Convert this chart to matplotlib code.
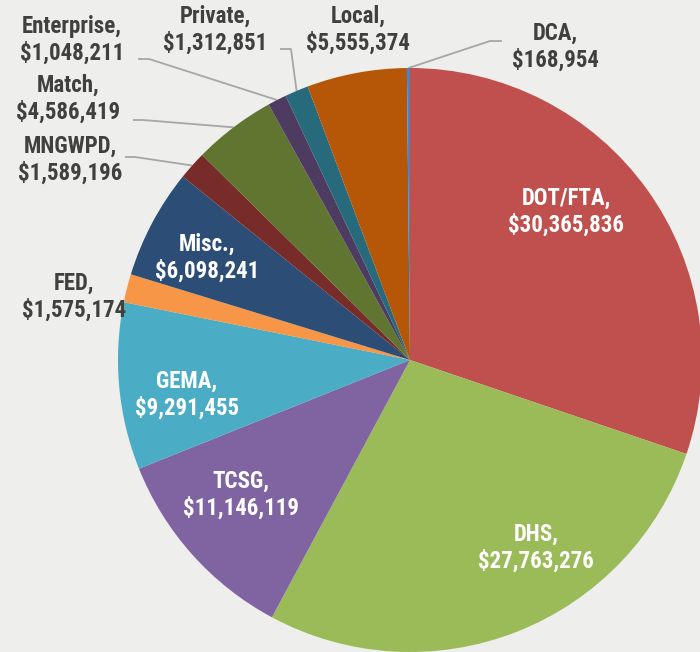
import matplotlib.pyplot as plt
from matplotlib import font_manager
import numpy as np

# prefer a narrow bold face, like the original's Tahoma-ish labels
names = {f.name for f in font_manager.fontManager.ttflist}
family = "DejaVu Sans"
for cand in ["Roboto Condensed", "Liberation Sans Narrow"]:
    if cand in names:
        family = cand
        break
plt.rcParams["font.family"] = family

# funding sources, clockwise from 12 o'clock
labels = ["DOT/FTA", "DHS", "TCSG", "GEMA", "FED", "Misc.", "MNGWPD",
          "Match", "Enterprise", "Private", "Local", "DCA"]
values = [30365836, 27763276, 11146119, 9291455, 1575174, 6098241, 1589196,
          4586419, 1048211, 1312851, 5555374, 168954]
colors = ["#C0504D", "#9BBB59", "#8064A2", "#4BACC6", "#F79646", "#2C4D75",
          "#772C2A", "#5F7530", "#4D3B62", "#276A7C", "#B65708", "#4F81BD"]

W, H = 700, 652
CX, CY, R = 410, H - 360, 292

# label placement in pixel coords (from top-left); inside labels white
label_pos = {
    "DOT/FTA": (566, 212), "DHS": (536, 548), "TCSG": (241, 495),
    "GEMA": (187, 395), "Misc.": (207, 258), "FED": (74, 297),
    "MNGWPD": (70, 160), "Match": (68, 99), "Enterprise": (72, 40),
    "Private": (215, 30), "Local": (358, 30), "DCA": (555, 47),
}
inside = {"DOT/FTA", "DHS", "TCSG", "GEMA", "Misc."}
# leader start (pixel coords from top-left) and horizontal stub length
leaders = {
    "MNGWPD": (125, 157, 10), "Match": (133, 120, 10),
    "Enterprise": (138, 59, 11), "Private": (280, 49, 11),
    "DCA": (502, 41, -12),
}

fig = plt.figure(figsize=(7, 6.52), dpi=100)
fig.patch.set_facecolor("#EEEEEC")
ax = fig.add_axes([0, 0, 1, 1])

wedges, _ = ax.pie(values, colors=colors, startangle=90, counterclock=False,
                   center=(CX, CY), radius=R,
                   wedgeprops=dict(linewidth=0))
ax.set_xlim(0, W)
ax.set_ylim(0, H)
ax.set_aspect("equal")
ax.axis("off")

fs = 16.5 if family != "DejaVu Sans" else 12.5
for lab, val, w in zip(labels, values, wedges):
    x, y = label_pos[lab]
    inner = lab in inside
    ax.text(x, H - y, f"{lab},\n${val:,}", ha="center", va="center",
            fontsize=fs, fontweight="bold", linespacing=1.2,
            color="white" if inner else "#404040")
    if lab in leaders:
        mid = np.deg2rad((w.theta1 + w.theta2) / 2)
        ex, ey = CX + R * np.cos(mid), CY + R * np.sin(mid)
        sx, sy, step = leaders[lab]
        sy = H - sy
        ax.plot([sx, sx + step, ex], [sy, sy, ey], color="#A6A6A6",
                linewidth=1.3, solid_capstyle="butt", zorder=0.5)

fig.savefig("out.png", dpi=100, facecolor=fig.get_facecolor())
